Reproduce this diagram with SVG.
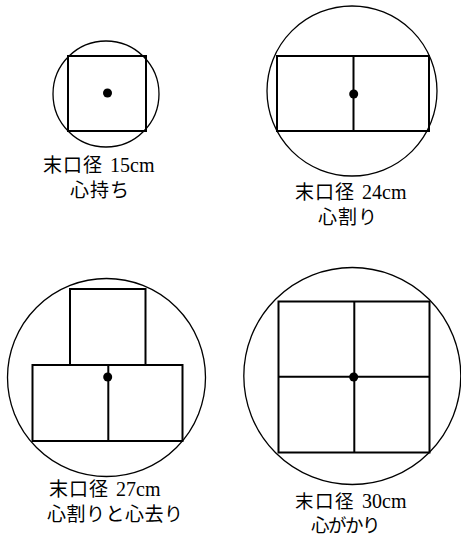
<svg xmlns="http://www.w3.org/2000/svg" width="461" height="535" viewBox="0 0 461 535">
<style>
.c{fill:none;stroke:#000;stroke-width:1.3}
.r{fill:none;stroke:#000;stroke-width:2}
.d{fill:#000}
.j{font-family:"Noto Sans CJK JP",sans-serif;font-size:19px;letter-spacing:1px;fill:#000}
.n{font-family:"Liberation Serif",serif;font-size:20px;fill:#000}
</style>
<rect width="461" height="535" fill="#fff"/>
<g id="d15">
<circle class="c" cx="106" cy="94" r="53"/>
<rect class="r" x="68" y="56" width="78" height="75"/>
<circle class="d" cx="107.5" cy="93" r="4.5"/>
<text class="j" x="43" y="172">末口径</text><text class="n" x="110" y="172">15cm</text>
<text class="j" x="70" y="197">心持ち</text>
</g>
<g id="d24">
<circle class="c" cx="352" cy="91" r="85"/>
<rect class="r" x="277" y="56" width="152" height="75"/>
<line class="r" x1="353.5" y1="56" x2="353.5" y2="131"/>
<circle class="d" cx="353.7" cy="94" r="4.5"/>
<text class="j" x="295" y="199">末口径</text><text class="n" x="362" y="199">24cm</text>
<text class="j" x="318" y="224">心割り</text>
</g>
<g id="d27">
<circle class="c" cx="106.5" cy="377.5" r="99"/>
<rect class="r" x="70" y="289" width="75.5" height="76"/>
<rect class="r" x="32.5" y="365" width="150" height="76"/>
<line class="r" x1="108.3" y1="365" x2="108.3" y2="441"/>
<circle class="d" cx="107.7" cy="377" r="4.5"/>
<text class="j" x="49" y="495.5">末口径</text><text class="n" x="116" y="495.5">27cm</text>
<text class="j" x="47" y="520.5" style="letter-spacing:0.5px">心割りと心去り</text>
</g>
<g id="d30">
<circle class="c" cx="352.3" cy="376" r="108.5"/>
<rect class="r" x="278.5" y="301.5" width="151" height="151"/>
<line class="r" x1="354.3" y1="301.5" x2="354.3" y2="452.5"/>
<line class="r" x1="278.5" y1="376.7" x2="429.5" y2="376.7"/>
<circle class="d" cx="353.7" cy="377" r="4.5"/>
<text class="j" x="295" y="507.5" style="font-size:18.5px;letter-spacing:1.5px">末口径</text><text class="n" x="362" y="507.5">30cm</text>
<text class="j" x="311" y="531.5" style="font-size:18.5px;letter-spacing:-1.5px">心がかり</text>
</g>
</svg>
